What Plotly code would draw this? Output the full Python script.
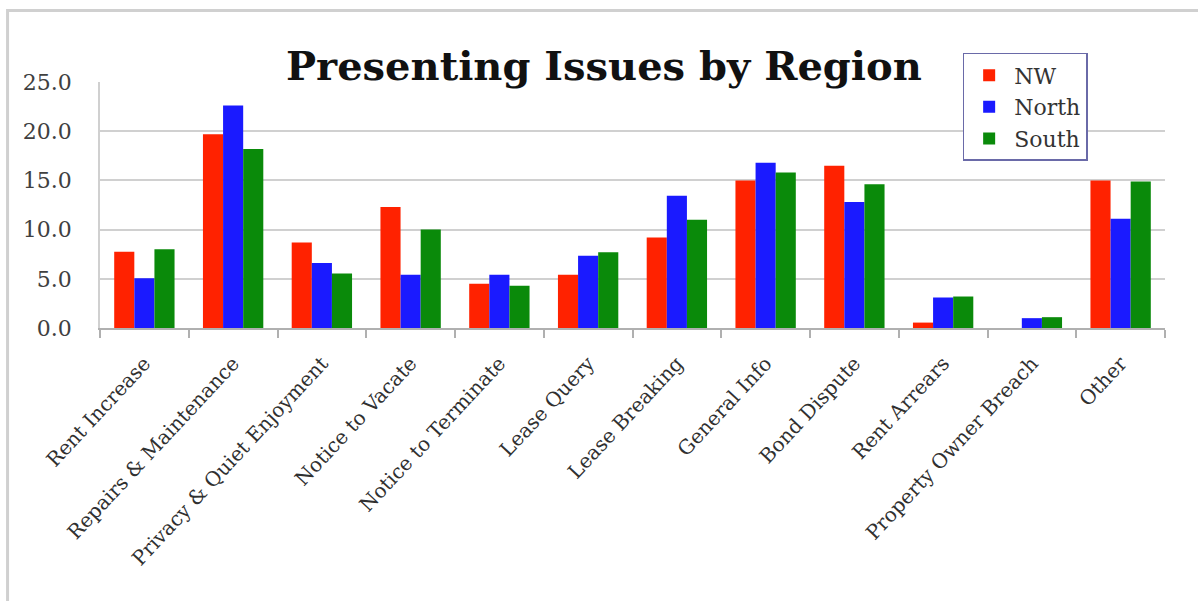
import plotly.graph_objects as go

categories = ["Rent Increase", "Repairs & Maintenance", "Privacy & Quiet Enjoyment",
              "Notice to Vacate", "Notice to Terminate", "Lease Query", "Lease Breaking",
              "General Info", "Bond Dispute", "Rent Arrears", "Property Owner Breach", "Other"]
nw = [7.75, 19.7, 8.7, 12.3, 4.5, 5.4, 9.2, 15.0, 16.5, 0.55, 0.0, 15.0]
north = [5.05, 22.6, 6.6, 5.4, 5.4, 7.35, 13.45, 16.8, 12.8, 3.1, 1.0, 11.1]
south = [8.0, 18.2, 5.55, 10.0, 4.3, 7.7, 11.0, 15.8, 14.6, 3.2, 1.1, 14.9]
y_ticks = [0, 5, 10, 15, 20, 25]

series = [("NW", nw, "#ff2200"), ("North", north, "#1a1aff"), ("South", south, "#0a8a0a")]

fig = go.Figure()
for name, vals, col in series:
    fig.add_trace(go.Bar(name=name, x=categories, y=vals, marker=dict(color=col, line=dict(width=0))))

fig.update_layout(
    width=1198, height=601,
    margin=dict(l=100, r=33, t=82, b=273),
    paper_bgcolor="white", plot_bgcolor="white",
    barmode="group", bargap=0.32, bargroupgap=0,
    showlegend=True,
    legend=dict(x=0.81, y=1.118, xanchor="left", yanchor="top",
                bgcolor="white", bordercolor="#6a6aa8", borderwidth=1.5,
                font=dict(family="DejaVu Serif", size=22, color="#333333"),
                itemwidth=40, entrywidth=158, entrywidthmode="pixels", tracegroupgap=0),
    font=dict(family="DejaVu Serif", color="#333333"),
)
fig.update_yaxes(range=[0, 25], tickvals=y_ticks, tickformat=".1f",
                 showgrid=True, gridcolor="#d0d0d0", gridwidth=1.5,
                 showline=True, linecolor="#d0d0d0", linewidth=1.5,
                 ticks="", ticklabelstandoff=22,
                 tickfont=dict(family="DejaVu Serif", size=22, color="#404040"),
                 zeroline=False)
fig.update_xaxes(showline=True, linecolor="#b0b0b0", linewidth=1.5,
                 ticks="outside", tickson="boundaries", ticklen=8, tickcolor="#b0b0b0",
                 tickwidth=1.5, tickangle=-47, ticklabelstandoff=14,
                 tickfont=dict(family="DejaVu Serif", size=20, color="#303030"))

fig.add_annotation(text="<b>Presenting Issues by Region</b>", xref="paper", yref="paper",
                   x=0.4737, y=1.069, xanchor="center", yanchor="middle", showarrow=False,
                   bgcolor="white", font=dict(family="DejaVu Serif", size=40, color="#111111"))

fig.add_shape(type="rect", xref="paper", yref="paper",
              x0=-0.0868, y0=-2.0, x1=1.2, y1=1.2907,
              line=dict(color="#d0d0d0", width=3), layer="below")

fig.write_html("out.html")
